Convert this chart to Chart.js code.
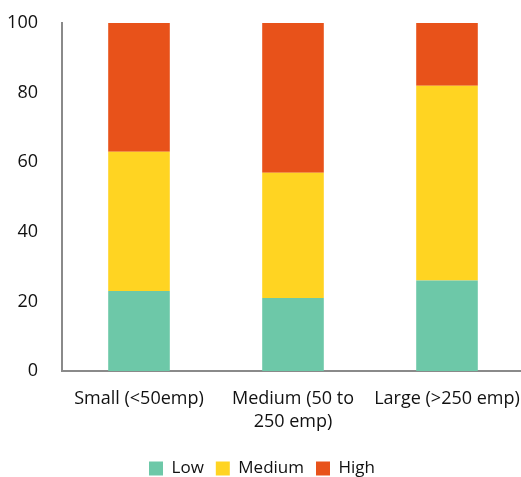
<!DOCTYPE html>
<html>
<head>
<meta charset="utf-8">
<script src="https://cdn.jsdelivr.net/npm/chart.js@4"></script>
<style>
  html, body { margin: 0; padding: 0; background: #fff; overflow: hidden; }
  #wrap { width: 521px; height: 477px; overflow: hidden; }
</style>
</head>
<body>
<div id="wrap"><canvas id="sizeChart" width="524" height="477"></canvas></div>
<script>
const categories = ['Small (<50emp)', ['Medium (50 to', '250 emp)'], 'Large (>250 emp)'];
const lowData = [23, 21, 26];
const mediumData = [40, 36, 56];
const highData = [37, 43, 18];
const yTicks = [0, 20, 40, 60, 80, 100];

document.addEventListener('DOMContentLoaded', () => {
  const ctx = document.getElementById('sizeChart').getContext('2d');
  Chart.defaults.font.family = '"Open Sans", "Noto Sans", sans-serif';
  Chart.defaults.font.size = 18;
  Chart.defaults.color = '#111';

  new Chart(ctx, {
    type: 'bar',
    data: {
      labels: categories,
      datasets: [
        { label: 'Low', data: lowData, backgroundColor: '#6dc8a8' },
        { label: 'Medium', data: mediumData, backgroundColor: '#ffd422' },
        { label: 'High', data: highData, backgroundColor: '#e8521a' },
      ],
    },
    options: {
      responsive: false,
      animation: false,
      layout: { padding: { top: 23, right: 0, left: 0, bottom: -10 } },
      datasets: { bar: { categoryPercentage: 0.4, barPercentage: 1 } },
      plugins: {
        legend: {
          position: 'bottom',
          labels: { boxWidth: 14, boxHeight: 14, padding: 12, font: { size: 17 } },
        },
        tooltip: { enabled: false },
      },
      scales: {
        x: {
          stacked: true,
          afterFit: (scale) => { scale.height = 77; scale.paddingRight = 0; scale.paddingLeft = 0; },
          grid: { display: false },
          border: { display: true, color: '#8a8a8a', width: 2 },
          ticks: { padding: 8, maxRotation: 0, font: { lineHeight: 1.28 } },
        },
        y: {
          stacked: true,
          min: 0,
          max: 100,
          afterBuildTicks: (scale) => { scale.ticks = yTicks.map((v) => ({ value: v })); },
          afterFit: (scale) => { scale.width = 62; scale.paddingTop = 0; scale.paddingBottom = 0; },
          grid: { display: false },
          border: { display: true, color: '#8a8a8a', width: 2 },
          ticks: { padding: 16 },
        },
      },
    },
  });
});
</script>
</body>
</html>
